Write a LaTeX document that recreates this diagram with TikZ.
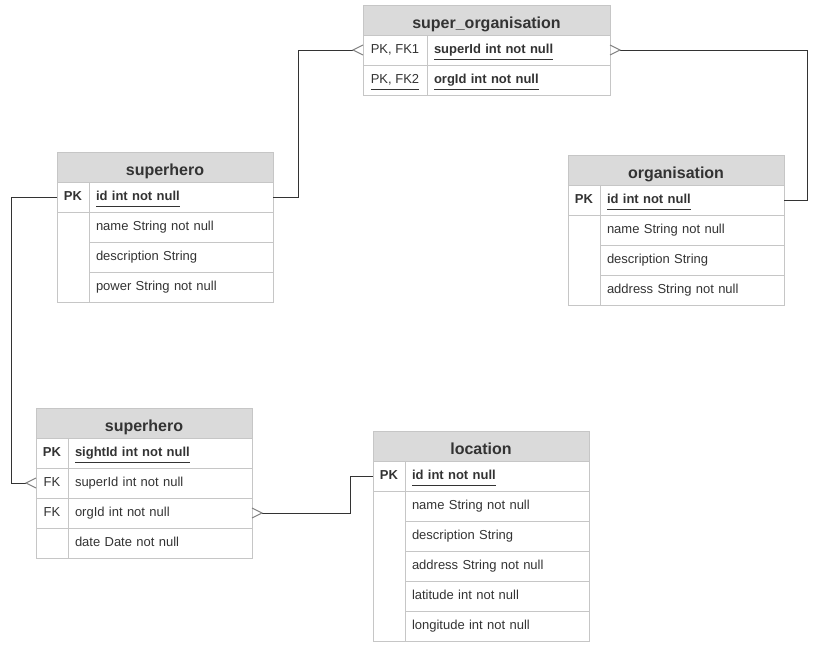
\documentclass[tikz,border=0pt]{standalone}
\usepackage{fontspec}
\setmainfont{Liberation Sans}
\usetikzlibrary{positioning}
\definecolor{hdrfill}{HTML}{DADADA}
\definecolor{gridgray}{HTML}{C6C6C6}
\definecolor{inkgray}{HTML}{333333}
\definecolor{crowgray}{HTML}{808080}
\newcommand{\keyline}[1]{\setbox0\hbox{#1}\rlap{\color{inkgray}\rule[-4.9pt]{\wd0}{1pt}}\box0}

\begin{document}
\begin{tikzpicture}[x=0.75pt,y=-0.75pt,
    cell/.style={draw=gridgray, line width=0.75pt, outer sep=0pt, inner ysep=0pt,
      minimum height=22.5pt, text=inkgray, text height=5.6pt, text depth=0pt,
      font=\fontsize{9.75}{11}\selectfont},
    hdr/.style={cell, fill=hdrfill, text height=12pt, font=\bfseries\fontsize{12}{14}\selectfont},
    keycell/.style={cell, minimum width=24pt, inner xsep=0pt},
    fieldcell/.style={cell, minimum width=138pt, text width=127.5pt, inner xsep=5.25pt, align=left},
    widekey/.style={minimum width=48pt},
    widefield/.style={minimum width=137.25pt, text width=126.75pt},
    link/.style={draw=inkgray, line width=0.75pt},
    crow/.style={draw=crowgray, line width=0.75pt}]
\useasboundingbox (0,0) rectangle (814,646);

% super_organisation
\node[hdr, minimum width=185.25pt] (so) at (486.5,20) {super\_organisation};
\node[keycell, widekey, anchor=north west] (sok1) at (so.south west) {PK, FK1};
\node[fieldcell, widefield, anchor=north west] (so1) at (sok1.north east) {\keyline{\textbf{superId int not null}}};
\node[keycell, widekey, below=0pt of sok1] (sok2) {\keyline{PK, FK2}};
\node[fieldcell, widefield, below=0pt of so1] (so2) {\keyline{\textbf{orgId int not null}}};

% superhero
\node[hdr, minimum width=162pt] (sh) at (165,167) {superhero};
\node[keycell, anchor=north west] (shk1) at (sh.south west) {\textbf{PK}};
\node[fieldcell, anchor=north west] (sh1) at (shk1.north east) {\keyline{\textbf{id int not null}}};
\node[fieldcell, below=0pt of sh1] (sh2) {name String not null};
\node[fieldcell, below=0pt of sh2] (sh3) {description String};
\node[fieldcell, below=0pt of sh3] (sh4) {power String not null};
\node[keycell, minimum height=67.5pt, below=0pt of shk1] (shk2) {};

% organisation
\node[hdr, minimum width=162pt] (org) at (676,170) {organisation};
\node[keycell, anchor=north west] (orgk1) at (org.south west) {\textbf{PK}};
\node[fieldcell, anchor=north west] (org1) at (orgk1.north east) {\keyline{\textbf{id int not null}}};
\node[fieldcell, below=0pt of org1] (org2) {name String not null};
\node[fieldcell, below=0pt of org2] (org3) {description String};
\node[fieldcell, below=0pt of org3] (org4) {address String not null};
\node[keycell, minimum height=67.5pt, below=0pt of orgk1] (orgk2) {};

% sightings (second superhero table)
\node[hdr, minimum width=162pt] (sg) at (144,423) {superhero};
\node[keycell, anchor=north west] (sgk1) at (sg.south west) {\textbf{PK}};
\node[fieldcell, anchor=north west] (sg1) at (sgk1.north east) {\keyline{\textbf{sightId int not null}}};
\node[keycell, below=0pt of sgk1] (sgk2) {FK};
\node[fieldcell, below=0pt of sg1] (sg2) {superId int not null};
\node[keycell, below=0pt of sgk2] (sgk3) {FK};
\node[fieldcell, below=0pt of sg2] (sg3) {orgId int not null};
\node[keycell, below=0pt of sgk3] (sgk4) {};
\node[fieldcell, below=0pt of sg3] (sg4) {date Date not null};

% location
\node[hdr, minimum width=162pt] (lo) at (481,446) {location};
\node[keycell, anchor=north west] (lok1) at (lo.south west) {\textbf{PK}};
\node[fieldcell, anchor=north west] (lo1) at (lok1.north east) {\keyline{\textbf{id int not null}}};
\node[fieldcell, below=0pt of lo1] (lo2) {name String not null};
\node[fieldcell, below=0pt of lo2] (lo3) {description String};
\node[fieldcell, below=0pt of lo3] (lo4) {address String not null};
\node[fieldcell, below=0pt of lo4] (lo5) {latitude int not null};
\node[fieldcell, below=0pt of lo5] (lo6) {longitude int not null};
\node[keycell, minimum height=112.5pt, below=0pt of lok1] (lok2) {};

% relations
\draw[link, shorten >=7.5pt] (sh1.east) -- ++(25,0) |- (sok1.west);
\draw[crow] (sok1.west) ++(0,-5) -- ++(-10,5) -- ++(10,5);
\draw[link, shorten >=7.5pt] (org1.east) -- ++(23,0) |- (so1.east);
\draw[crow] (so1.east) ++(0,-5) -- ++(10,5) -- ++(-10,5);
\draw[link, shorten >=7.5pt] (shk1.west) -- ++(-46,0) |- (sgk2.west);
\draw[crow] (sgk2.west) ++(0,-5) -- ++(-10,5) -- ++(10,5);
\draw[link, shorten <=7.5pt] (sg3.east) -- ++(98,0) |- (lok1.west);
\draw[crow] (sg3.east) ++(0,-5) -- ++(10,5) -- ++(-10,5);
\end{tikzpicture}
\end{document}
